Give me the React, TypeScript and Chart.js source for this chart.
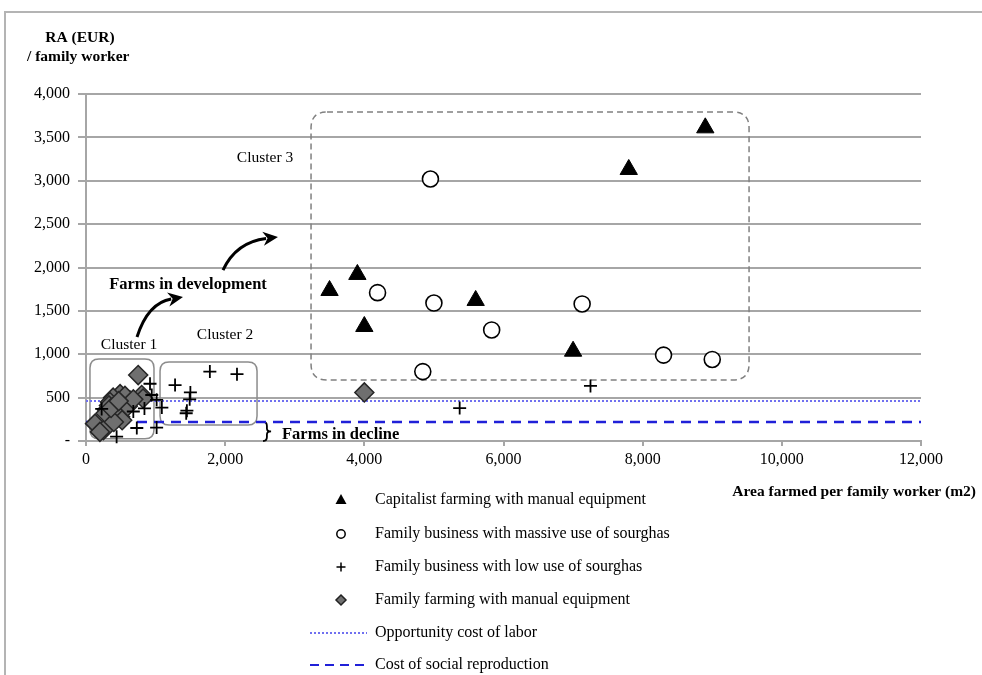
import React, { useEffect, useRef } from 'react';
import { Chart, registerables } from 'chart.js';
Chart.register(...registerables);

// ---------- data ----------
const xTickValues = [0, 2000, 4000, 6000, 8000, 10000, 12000];
const yTickValues = [0, 500, 1000, 1500, 2000, 2500, 3000, 3500, 4000];

const seriesNames = [
  'Capitalist farming with manual equipment',
  'Family business with massive use of sourghas',
  'Family business with low use of sourghas',
  'Family farming with manual equipment',
  'Opportunity cost of labor',
  'Cost of social reproduction',
];

const capitalistPts: [number, number][] = [
  [3500, 1735], [3900, 1920], [4000, 1320], [5600, 1620], [7000, 1035], [7800, 3130], [8900, 3610],
];
const massivePts: [number, number][] = [
  [4950, 3020], [4190, 1710], [5000, 1590], [5830, 1280], [7130, 1580], [8300, 990], [9000, 940], [4840, 800],
];
const lowPts: [number, number][] = [
  [7250, 635], [5370, 380], [1280, 645], [1780, 800], [2170, 770], [1500, 560], [1490, 480], [1450, 350],
  [1440, 320], [920, 660], [1015, 475], [1090, 385], [730, 150], [1015, 155], [440, 50], [840, 375],
  [225, 370], [680, 340], [945, 530],
];
const familyPts: [number, number][] = [
  [4000, 560], [750, 760], [800, 530], [490, 540], [390, 500], [345, 450], [300, 360], [370, 280],
  [490, 280], [540, 360], [590, 450], [130, 200], [250, 125], [630, 470], [440, 400], [820, 490],
  [200, 105], [560, 520], [280, 320], [420, 340], [460, 300], [520, 240], [400, 220], [330, 410],
  [600, 400], [680, 480], [360, 380], [470, 460],
];
const opportunityCost = 460;
const socialReproduction = 220;

// annotations in data units
const clusterBoxes = [
  { x0: 57, x1: 977, y0: 25, y1: 945, dashed: false, r: 9 },
  { x0: 1064, x1: 2458, y0: 184, y1: 911, dashed: false, r: 9 },
  { x0: 3234, x1: 9529, y0: 703, y1: 3792, dashed: true, r: 16 },
];
const textLabels = [
  { text: 'Cluster 3', x: 2573, y: 3262, bold: false, align: 'center' },
  { text: 'Cluster 1', x: 618, y: 1107, bold: false, align: 'center' },
  { text: 'Cluster 2', x: 1998, y: 1222, bold: false, align: 'center' },
  { text: 'Farms in development', x: 1466, y: 1798, bold: true, align: 'center' },
  { text: 'Farms in decline', x: 2817, y: 69, bold: true, align: 'left' },
];
const arrows = [
  { sx: 733, sy: 1199, cx: 891, cy: 1591, ex: 1394, ey: 1660 },
  { sx: 1969, sy: 1971, cx: 2156, cy: 2294, ex: 2759, ey: 2352 },
];
const brace = { x0: 2545, x1: 2600, tip: 2660, top: socialReproduction, bottom: 0 };

const FONT = '"Liberation Serif", "Times New Roman", serif';
const toXY = (a: [number, number][]) => a.map(([x, y]) => ({ x, y }));

function roundRect(ctx: CanvasRenderingContext2D, x: number, y: number, w: number, h: number, r: number) {
  ctx.beginPath();
  ctx.moveTo(x + r, y);
  ctx.lineTo(x + w - r, y);
  ctx.quadraticCurveTo(x + w, y, x + w, y + r);
  ctx.lineTo(x + w, y + h - r);
  ctx.quadraticCurveTo(x + w, y + h, x + w - r, y + h);
  ctx.lineTo(x + r, y + h);
  ctx.quadraticCurveTo(x, y + h, x, y + h - r);
  ctx.lineTo(x, y + r);
  ctx.quadraticCurveTo(x, y, x + r, y);
  ctx.closePath();
}

const decorPlugin = {
  id: 'decor',
  beforeDraw(chart: any) {
    const ctx = chart.ctx as CanvasRenderingContext2D;
    ctx.save();
    ctx.strokeStyle = '#b4b4b4';
    ctx.lineWidth = 2;
    ctx.beginPath();
    ctx.moveTo(5, 700);
    ctx.lineTo(5, 12);
    ctx.lineTo(990, 12);
    ctx.stroke();
    ctx.restore();
  },
  beforeDatasetsDraw(chart: any) {
    const ctx = chart.ctx as CanvasRenderingContext2D;
    const xs = chart.scales.x;
    const ys = chart.scales.y;
    const px = (v: number) => xs.getPixelForValue(v);
    const py = (v: number) => ys.getPixelForValue(v);
    ctx.save();
    // boxes
    for (const b of clusterBoxes) {
      const x0 = px(b.x0), x1 = px(b.x1), y0 = py(b.y1), y1 = py(b.y0);
      ctx.strokeStyle = b.dashed ? '#808080' : '#8c8c8c';
      ctx.lineWidth = 1.5;
      ctx.setLineDash(b.dashed ? [6, 4] : []);
      roundRect(ctx, x0, y0, x1 - x0, y1 - y0, b.r);
      ctx.stroke();
    }
    ctx.setLineDash([]);
    // labels
    ctx.fillStyle = '#000';
    ctx.textBaseline = 'middle';
    for (const t of textLabels) {
      ctx.font = (t.bold ? 'bold 16.5px ' : '15.5px ') + FONT;
      ctx.textAlign = t.align as CanvasTextAlign;
      ctx.fillText(t.text, px(t.x), py(t.y));
    }
    // brace
    {
      const x0 = px(brace.x0), x1 = px(brace.x1), tip = px(brace.tip);
      const top = py(brace.top), bot = py(brace.bottom), mid = (top + bot) / 2;
      ctx.strokeStyle = '#000';
      ctx.lineWidth = 1.8;
      ctx.beginPath();
      ctx.moveTo(x0, top);
      ctx.quadraticCurveTo(x1, top, x1, top + 4);
      ctx.lineTo(x1, mid - 3);
      ctx.quadraticCurveTo(x1, mid, tip, mid);
      ctx.quadraticCurveTo(x1, mid, x1, mid + 3);
      ctx.lineTo(x1, bot - 4);
      ctx.quadraticCurveTo(x1, bot, x0, bot);
      ctx.stroke();
    }
    // arrows
    ctx.strokeStyle = '#000';
    ctx.fillStyle = '#000';
    ctx.lineWidth = 3;
    for (const a of arrows) {
      const sx = px(a.sx), sy = py(a.sy), cx = px(a.cx), cy = py(a.cy), ex = px(a.ex), ey = py(a.ey);
      const ang = Math.atan2(ey - cy, ex - cx);
      const hl = 15, hw = 7;
      const bx = ex - Math.cos(ang) * hl * 0.8, by = ey - Math.sin(ang) * hl * 0.8;
      ctx.beginPath();
      ctx.moveTo(sx, sy);
      ctx.quadraticCurveTo(cx, cy, bx, by);
      ctx.stroke();
      ctx.beginPath();
      ctx.moveTo(ex, ey);
      ctx.lineTo(ex - Math.cos(ang) * hl - Math.sin(ang) * hw, ey - Math.sin(ang) * hl + Math.cos(ang) * hw);
      ctx.lineTo(ex - Math.cos(ang) * hl * 0.7, ey - Math.sin(ang) * hl * 0.7);
      ctx.lineTo(ex - Math.cos(ang) * hl + Math.sin(ang) * hw, ey - Math.sin(ang) * hl - Math.cos(ang) * hw);
      ctx.closePath();
      ctx.fill();
    }
    ctx.restore();
  },
  afterDraw(chart: any) {
    const ctx = chart.ctx as CanvasRenderingContext2D;
    ctx.save();
    ctx.fillStyle = '#000';
    ctx.textBaseline = 'middle';
    ctx.font = 'bold 15.5px ' + FONT;
    ctx.textAlign = 'center';
    ctx.fillText('RA (EUR)', 80, 38);
    ctx.textAlign = 'left';
    ctx.fillText('/ family worker', 27, 57);
    ctx.textAlign = 'right';
    ctx.fillText('Area farmed per family worker (m2)', 976, 492);

    // legend
    const mx = 341, tx = 375;
    const ys = [500, 534, 567, 600, 633, 665];
    ctx.font = '16px ' + FONT;
    ctx.textAlign = 'left';
    seriesNames.forEach((n, i) => ctx.fillText(n, tx, ys[i]));
    // triangle
    ctx.fillStyle = '#000';
    ctx.beginPath();
    ctx.moveTo(mx, ys[0] - 6);
    ctx.lineTo(mx + 5.5, ys[0] + 4);
    ctx.lineTo(mx - 5.5, ys[0] + 4);
    ctx.closePath();
    ctx.fill();
    // circle
    ctx.strokeStyle = '#000';
    ctx.lineWidth = 1.5;
    ctx.beginPath();
    ctx.arc(mx, ys[1], 4.2, 0, Math.PI * 2);
    ctx.stroke();
    // plus
    ctx.beginPath();
    ctx.moveTo(mx - 4.5, ys[2]);
    ctx.lineTo(mx + 4.5, ys[2]);
    ctx.moveTo(mx, ys[2] - 4.5);
    ctx.lineTo(mx, ys[2] + 4.5);
    ctx.stroke();
    // diamond
    ctx.fillStyle = '#707070';
    ctx.strokeStyle = '#222';
    ctx.beginPath();
    ctx.moveTo(mx, ys[3] - 5);
    ctx.lineTo(mx + 5, ys[3]);
    ctx.lineTo(mx, ys[3] + 5);
    ctx.lineTo(mx - 5, ys[3]);
    ctx.closePath();
    ctx.fill();
    ctx.stroke();
    // lines
    ctx.lineWidth = 2;
    ctx.strokeStyle = '#7070f0';
    ctx.setLineDash([2, 2]);
    ctx.beginPath();
    ctx.moveTo(310, ys[4]);
    ctx.lineTo(367, ys[4]);
    ctx.stroke();
    ctx.strokeStyle = '#2020d8';
    ctx.setLineDash([9, 6]);
    ctx.beginPath();
    ctx.moveTo(310, ys[5]);
    ctx.lineTo(367, ys[5]);
    ctx.stroke();
    ctx.restore();
  },
};

export default function App() {
  const ref = useRef<HTMLCanvasElement | null>(null);
  useEffect(() => {
    if (!ref.current) return;
    const chart = new Chart(ref.current, {
      type: 'scatter',
      data: {
        datasets: [
          {
            type: 'line',
            label: seriesNames[4],
            data: [{ x: xTickValues[0], y: opportunityCost }, { x: xTickValues[xTickValues.length - 1], y: opportunityCost }],
            borderColor: '#7070f0',
            borderWidth: 2,
            borderDash: [2, 2],
            pointRadius: 0,
            order: 10,
          } as any,
          {
            type: 'line',
            label: seriesNames[5],
            data: [{ x: xTickValues[0], y: socialReproduction }, { x: xTickValues[xTickValues.length - 1], y: socialReproduction }],
            borderColor: '#2020d8',
            borderWidth: 2.5,
            borderDash: [10, 7],
            pointRadius: 0,
            order: 9,
          } as any,
          {
            label: seriesNames[3],
            data: toXY(familyPts),
            pointStyle: 'rectRot',
            pointRadius: 9.5,
            backgroundColor: '#6f6f6f',
            borderColor: '#262626',
            borderWidth: 1.5,
            order: 4,
          },
          {
            label: seriesNames[2],
            data: toXY(lowPts),
            pointStyle: 'cross',
            pointRadius: 6.5,
            borderColor: '#000',
            borderWidth: 1.8,
            order: 3,
          },
          {
            label: seriesNames[1],
            data: toXY(massivePts),
            pointStyle: 'circle',
            pointRadius: 8,
            backgroundColor: '#fff',
            borderColor: '#000',
            borderWidth: 1.6,
            order: 2,
          },
          {
            label: seriesNames[0],
            data: toXY(capitalistPts),
            pointStyle: 'triangle',
            pointRadius: 10,
            backgroundColor: '#000',
            borderColor: '#000',
            borderWidth: 1,
            order: 1,
          },
        ],
      },
      options: {
        animation: false,
        responsive: false,
        clip: false as any,
        layout: { padding: { left: 0, top: 94, right: 61, bottom: 204 } },
        plugins: { legend: { display: false }, tooltip: { enabled: false } },
        scales: {
          x: {
            type: 'linear',
            min: 0,
            max: 12000,
            afterFit: (s: any) => { s.height = 30; },
            afterBuildTicks: (s: any) => { s.ticks = xTickValues.map((v) => ({ value: v })); },
            ticks: {
              color: '#000',
              font: { family: FONT, size: 16 },
              padding: 4,
              callback: (v: any) => Number(v).toLocaleString('en-US'),
            },
            grid: { drawOnChartArea: false, drawTicks: true, tickLength: 5, color: '#a6a6a6', lineWidth: 2 },
            border: { display: true, color: '#a6a6a6', width: 2 },
          },
          y: {
            type: 'linear',
            min: 0,
            max: 4000,
            afterFit: (s: any) => { s.width = 86; },
            afterBuildTicks: (s: any) => { s.ticks = yTickValues.map((v) => ({ value: v })); },
            ticks: {
              color: '#000',
              font: { family: FONT, size: 16 },
              padding: 8,
              callback: (v: any) => (Number(v) === 0 ? '-' : Number(v).toLocaleString('en-US')),
            },
            grid: { color: '#a6a6a6', lineWidth: 2, tickLength: 8 },
            border: { display: true, color: '#a6a6a6', width: 2 },
          },
        },
      },
      plugins: [decorPlugin],
    });
    return () => chart.destroy();
  }, []);
  return (
    <div style={{ position: 'fixed', left: 0, top: 0, width: 982, height: 675, background: '#fff' }}>
      <canvas ref={ref} width={982} height={675} style={{ display: 'block' }} />
    </div>
  );
}
